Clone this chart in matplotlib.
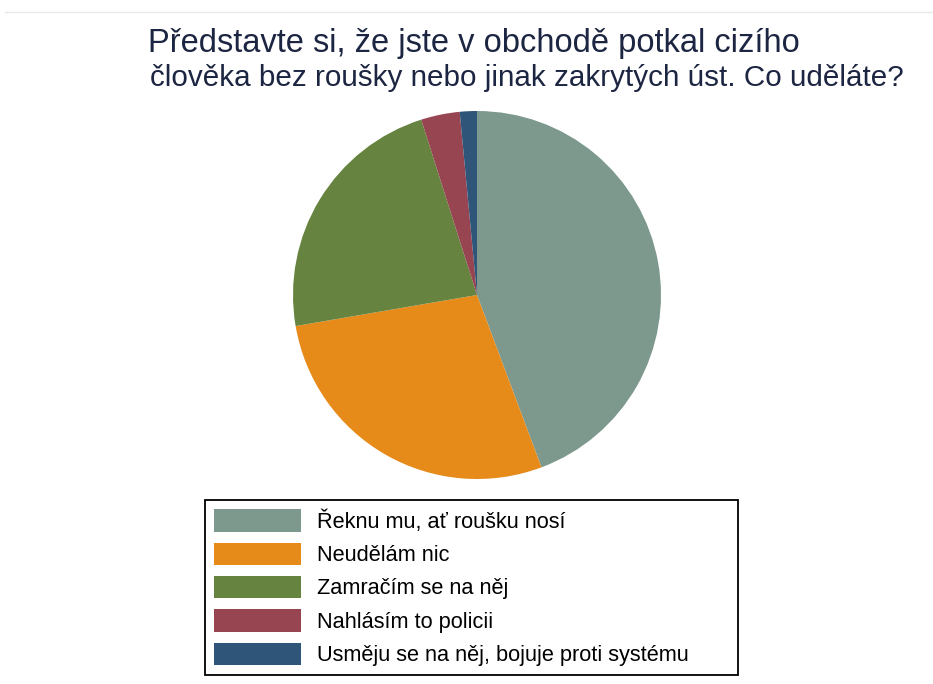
import matplotlib
matplotlib.use("Agg")
import matplotlib.pyplot as plt
from matplotlib.lines import Line2D

plt.rcParams['font.family'] = ['Liberation Sans', 'DejaVu Sans']

title_lines = ["Představte si, že jste v obchodě potkal cizího",
               "člověka bez roušky nebo jinak zakrytých úst. Co uděláte?"]
categories = ["Řeknu mu, ať roušku nosí", "Neudělám nic", "Zamračím se na něj",
              "Nahlásím to policii", "Usměju se na něj, bojuje proti systému"]
values = [44.3, 28.0, 22.8, 3.4, 1.5]
colors = ["#7D998D", "#E68A1A", "#668440", "#974550", "#2F5579"]

W, H = 933, 684
fig = plt.figure(figsize=(W/100, H/100), dpi=100)
fig.patch.set_facecolor("white")

# faint top rule
fig.add_artist(Line2D([5/W, 1.0], [1-12/H, 1-12/H], color="#e6eaee", lw=1))

fig.text(148/W, 1-52/H, title_lines[0], ha="left", va="baseline",
         fontsize=23.5, color="#1c2541")
fig.text(150/W, 1-86/H, title_lines[1], ha="left", va="baseline",
         fontsize=21.3, color="#1c2541")

cx, cy, r = 477, 295, 184
ax = fig.add_axes([(cx-r)/W, (H-cy-r)/H, 2*r/W, 2*r/H])
wedges, _ = ax.pie(values, colors=colors, startangle=90, counterclock=False,
                   radius=1, wedgeprops=dict(linewidth=0))
ax.set_xlim(-1, 1)
ax.set_ylim(-1, 1)
ax.set_aspect("equal")
ax.axis("off")

leg = fig.legend(wedges, categories, loc="upper left", mode="expand",
                 bbox_to_anchor=(205/W, 1-676/H, 533/W, 176/H), fontsize=15.7,
                 frameon=True, fancybox=False, shadow=False,
                 handlelength=4.0, handleheight=1.2, labelspacing=0.45,
                 handletextpad=0.73, borderpad=0.42, borderaxespad=0)
fr = leg.get_frame()
fr.set_edgecolor("black")
fr.set_linewidth(1.3)
fr.set_alpha(1)

fig.savefig("out.png", dpi=100)
